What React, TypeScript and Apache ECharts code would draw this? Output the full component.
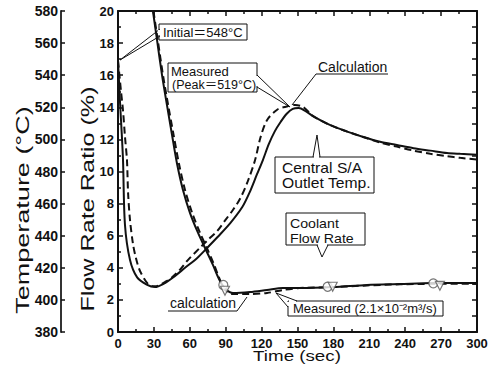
import React, { useEffect, useRef } from "react";
import * as echarts from "echarts";

// ---- data (time in sec) ----
const timeTicks = [0, 30, 60, 90, 120, 150, 180, 210, 240, 270, 300];
const flowTicks = [0, 2, 4, 6, 8, 10, 12, 14, 16, 18, 20];
const tempTicks = [380, 400, 420, 440, 460, 480, 500, 520, 540, 560, 580];

// Central S/A outlet temperature (deg C)
const tempMeasured: [number, number][] = [
  [0, 549], [1.7, 523], [3.1, 504], [4.2, 487], [5.8, 447], [10, 425], [16, 414],
  [24, 409.5], [31, 408], [38, 410], [46, 414], [56, 420], [66, 426], [74, 432],
  [83, 439], [94, 448], [104, 458], [110, 467], [116, 478], [121, 487], [126, 497],
  [131, 505], [136, 511], [141, 516], [146, 519], [151, 519.5], [156, 518], [163, 514.5],
  [177, 509], [191, 505], [205, 501.5], [219, 498.5], [233, 496.5], [247, 494.5],
  [261, 493], [275, 491.5], [286, 491], [300, 490.5],
];
const tempCalc: [number, number][] = [
  [0, 549], [2.5, 530], [4.2, 518], [5.8, 502], [7.5, 487], [8.4, 467], [10, 450],
  [12.5, 435], [15, 426], [18.4, 418], [25, 410], [30, 408.5], [34, 409], [40, 411.5],
  [45, 414], [52, 419], [58, 424.5], [68.5, 432.5], [76, 438], [83, 443], [90, 450],
  [96, 456], [102, 463], [108, 473], [114.5, 487], [119, 501], [124.5, 512], [133, 518.5],
  [141, 520.5], [148, 521.5], [155, 520], [163, 514.5], [177, 509], [191, 505],
  [205, 501.5], [219, 498], [233, 495.5], [247, 493], [261, 491], [275, 489.5],
  [286, 488.5], [300, 487.5],
];

// Coolant flow rate ratio (%)
const flowMeasured: [number, number][] = [
  [29.2, 20], [32.6, 18.2], [36.8, 16.0], [41.0, 14.1], [45.1, 12.3], [49.3, 10.5],
  [54.3, 8.85], [60.2, 7.41], [66.9, 6.17], [73.5, 5.11], [79.4, 4.17], [83.6, 3.43],
  [87.7, 2.87], [91.9, 2.55], [96.1, 2.43], [110.3, 2.49], [124.5, 2.62], [137.9, 2.74],
  [152.1, 2.74], [179.7, 2.8], [208.1, 2.93], [235.6, 2.99], [263.2, 3.05], [300, 3.05],
];
const flowCalc: [number, number][] = [
  [29.6, 20], [33.2, 18.2], [37.6, 16.0], [42.0, 14.1], [46.4, 12.3], [50.9, 10.5],
  [56.0, 8.85], [62.0, 7.41], [68.6, 6.17], [75.0, 5.11], [80.4, 4.17], [84.2, 3.43],
  [87.8, 2.8], [91.9, 2.45], [96, 2.37], [110, 2.37], [124.5, 2.43], [138, 2.62],
  [152, 2.74], [180, 2.8], [208, 2.9], [236, 2.97], [263, 3.0], [300, 3.0],
];
const flowPointsCircle: [number, number][] = [[88, 2.93], [175.2, 2.82], [263.5, 3.03]];
const flowPointsTriangle: [number, number][] = [[89.4, 2.57], [179.4, 2.82], [269, 2.88]];

const FONT_AX = "'Liberation Sans', Arial, sans-serif";
const FONT_TX = "'Liberation Sans', 'Noto Sans CJK JP', sans-serif";
const INK = "#111";

function txt(text: string, x: number, y: number, size: number, extra: any = {}) {
  const { style, ...rest } = extra;
  return {
    type: "text",
    x,
    y,
    z: 20,
    ...rest,
    style: {
      text,
      fill: INK,
      fontSize: size,
      fontFamily: FONT_TX,
      align: "left",
      verticalAlign: "middle",
      ...(style || {}),
    },
  };
}
function box(x: number, y: number, w: number, h: number) {
  return {
    type: "rect",
    z: 18,
    shape: { x, y, width: w, height: h },
    style: { fill: "#fff", stroke: INK, lineWidth: 1 },
  };
}
function pl(points: number[][], z = 19) {
  return {
    type: "polyline",
    z,
    shape: { points },
    style: { stroke: INK, lineWidth: 1, fill: null },
  };
}
function wline(x1: number, y1: number, x2: number, y2: number) {
  return {
    type: "line",
    z: 19,
    shape: { x1, y1, x2, y2 },
    style: { stroke: "#fff", lineWidth: 2 },
  };
}

export default function App() {
  const ref = useRef<HTMLDivElement>(null);
  useEffect(() => {
    if (!ref.current) return;
    const chart = echarts.init(ref.current, undefined, { renderer: "svg" });
    const axisLineStyle = { color: INK, width: 2 };
    const tickStyle = { color: INK, width: 1.5 };
    const labelStyle = {
      color: INK,
      fontSize: 13,
      fontWeight: "bold",
      fontFamily: FONT_AX,
    };
    const baseX = {
      type: "value",
      min: timeTicks[0],
      max: timeTicks[timeTicks.length - 1],
      interval: 30,
      splitLine: { show: false },
      axisLine: { show: true, onZero: false, lineStyle: axisLineStyle },
      axisTick: { show: true, inside: true, length: 5, lineStyle: tickStyle },
      minorTick: { show: true, splitNumber: 2, length: 3, lineStyle: tickStyle },
    };
    const option: any = {
      animation: false,
      backgroundColor: "#fff",
      grid: { left: 118, right: 18, top: 11, bottom: 40 },
      xAxis: [
        {
          ...baseX,
          position: "bottom",
          axisLabel: { ...labelStyle, margin: 5 },
        },
        { ...baseX, position: "top", axisLabel: { show: false } },
      ],
      yAxis: [
        {
          type: "value",
          position: "left",
          min: flowTicks[0],
          max: flowTicks[flowTicks.length - 1],
          interval: 2,
          splitLine: { show: false },
          axisLine: { show: true, onZero: false, lineStyle: axisLineStyle },
          axisTick: { show: true, inside: true, length: 5, lineStyle: tickStyle },
          minorTick: { show: true, splitNumber: 2, length: 3, lineStyle: tickStyle },
          axisLabel: { ...labelStyle, margin: 4 },
        },
        {
          type: "value",
          position: "right",
          min: 0,
          max: 20,
          interval: 1,
          splitLine: { show: false },
          axisLine: { show: true, onZero: false, lineStyle: axisLineStyle },
          axisTick: { show: true, inside: true, length: 5, lineStyle: tickStyle },
          axisLabel: { show: false },
        },
        {
          type: "value",
          position: "left",
          offset: 57,
          min: tempTicks[0],
          max: tempTicks[tempTicks.length - 1],
          interval: 20,
          splitLine: { show: false },
          axisLine: { show: true, onZero: false, lineStyle: { color: "#333", width: 2 } },
          axisTick: { show: true, inside: true, length: 4, lineStyle: tickStyle },
          axisLabel: { ...labelStyle, fontSize: 14, margin: 3 },
        },
      ],
      series: [
        {
          type: "line",
          name: "Temp measured",
          xAxisIndex: 0,
          yAxisIndex: 2,
          data: tempMeasured,
          showSymbol: false,
          smooth: 0.3,
          lineStyle: { color: INK, width: 2 },
          z: 3,
        },
        {
          type: "line",
          name: "Temp calculation",
          xAxisIndex: 0,
          yAxisIndex: 2,
          data: tempCalc,
          showSymbol: false,
          smooth: 0.3,
          lineStyle: { color: INK, width: 2, type: [7, 4] },
          z: 3,
        },
        {
          type: "line",
          name: "Flow measured",
          xAxisIndex: 0,
          yAxisIndex: 0,
          data: flowMeasured,
          showSymbol: false,
          smooth: 0.3,
          lineStyle: { color: INK, width: 2 },
          z: 3,
        },
        {
          type: "line",
          name: "Flow calculation",
          xAxisIndex: 0,
          yAxisIndex: 0,
          data: flowCalc,
          showSymbol: false,
          smooth: 0.3,
          lineStyle: { color: INK, width: 2, type: [7, 4] },
          z: 3,
        },
        {
          type: "scatter",
          name: "Flow points A",
          xAxisIndex: 0,
          yAxisIndex: 0,
          data: flowPointsCircle,
          symbol: "circle",
          symbolSize: 9,
          itemStyle: { color: "#fff", borderColor: "#555", borderWidth: 1.2 },
          z: 5,
        },
        {
          type: "scatter",
          name: "Flow points B",
          xAxisIndex: 0,
          yAxisIndex: 0,
          data: flowPointsTriangle,
          symbol: "triangle",
          symbolRotate: 180,
          symbolSize: 9,
          itemStyle: { color: "#fff", borderColor: "#555", borderWidth: 1.2 },
          z: 5,
        },
      ],
      graphic: [
        // axis titles
        txt("Temperature (°C)", 23, 210, 18, {
          rotation: Math.PI / 2,
          scaleX: 1.5,
          style: { align: "center" },
        }),
        txt("Flow Rate Ratio (%)", 88, 199, 18, {
          rotation: Math.PI / 2,
          scaleX: 1.4,
          style: { align: "center" },
        }),
        txt("Time (sec)", 297, 356, 15, { scaleX: 1.25, style: { align: "center" } }),

        // Initial = 548
        box(159, 24, 88, 16),
        pl([[160, 29], [120, 60], [160, 36]]),
        wline(159, 30, 159, 35),
        txt("Initial＝548°C", 163, 32.5, 13),

        // Measured (Peak)
        box(168, 63, 89, 29),
        pl([[257, 75], [290, 107], [257, 87]]),
        wline(257, 76, 257, 86),
        txt("Measured", 171, 71.5, 13),
        txt("(Peak＝519°C)", 172, 85, 12.5),

        // Calculation (upper)
        txt("Calculation", 318, 67, 14),
        pl([[388, 74], [316, 74], [292, 105]]),

        // Central S/A Outlet Temp.
        box(275, 157, 99, 36),
        wline(314, 157, 319, 157),
        pl([[313, 157], [317, 135], [320, 157]]),
        txt("Central S/A", 282, 168, 14, { scaleX: 1.12 }),
        txt("Outlet Temp.", 282, 183.5, 14, { scaleX: 1.12 }),

        // Coolant Flow Rate
        box(286, 213, 79, 32),
        wline(318, 245, 327, 245),
        pl([[317, 245], [322, 257], [328, 245]]),
        txt("Coolant", 290, 223.5, 13.5, { scaleX: 1.05 }),
        txt("Flow Rate", 290, 238, 13.5, { scaleX: 1.05 }),

        // calculation (lower)
        txt("calculation", 170, 303, 14),
        pl([[168, 311], [237, 311], [247, 297]]),

        // Measured (2.1x10^-2 m3/s)
        box(288, 301, 155, 15),
        wline(288, 302, 288, 306),
        wline(289, 301, 296, 301),
        pl([[288, 307], [276, 293], [297, 301]]),
        txt("Measured (2.1×10⁻²m³/s)", 293, 308.5, 13),
      ],
    };
    chart.setOption(option);
    return () => chart.dispose();
  }, []);
  return (
    <div
      ref={ref}
      style={{ position: "absolute", left: 0, top: 0, width: 495, height: 372 }}
    />
  );
}
